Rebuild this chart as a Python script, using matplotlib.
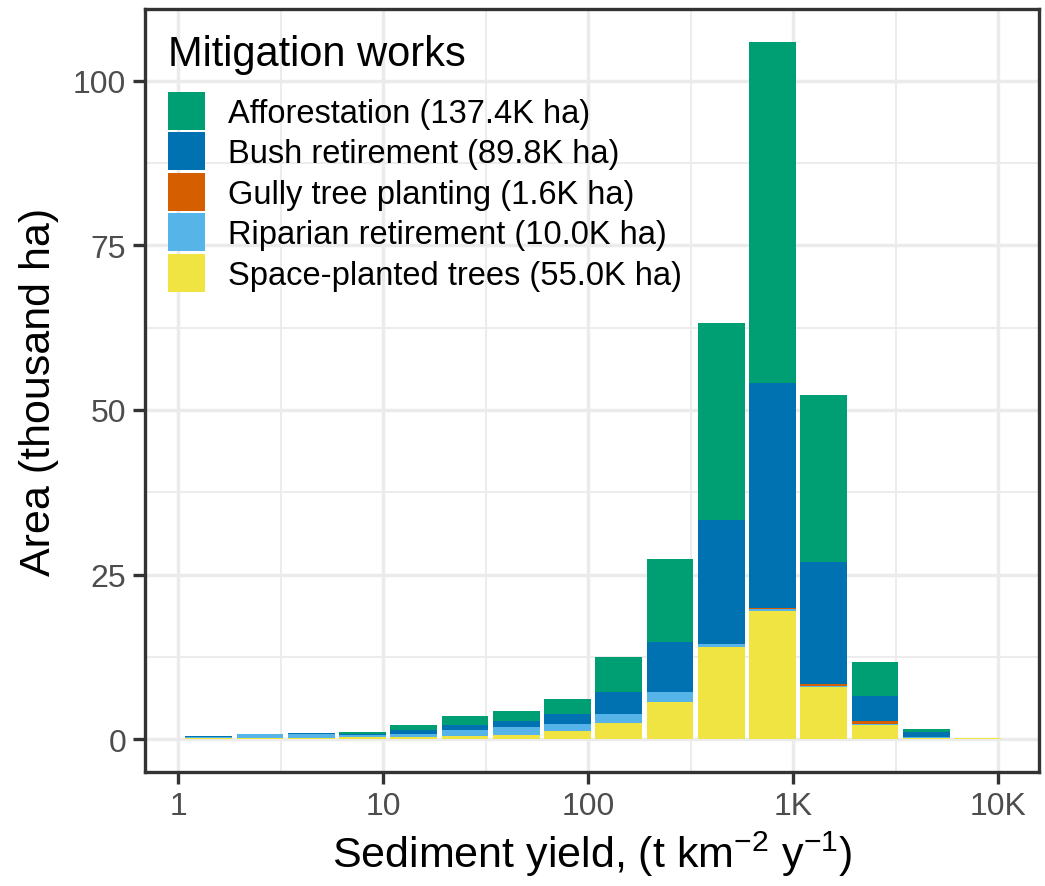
import matplotlib
matplotlib.use('Agg')
import matplotlib.pyplot as plt
import numpy as np
from matplotlib.patches import Patch
from matplotlib.ticker import FixedLocator, NullFormatter

plt.rcParams['font.family'] = ['Liberation Sans', 'DejaVu Sans']
plt.rcParams['mathtext.fontset'] = 'custom'
plt.rcParams['mathtext.rm'] = 'Liberation Sans'
plt.rcParams['mathtext.it'] = 'Liberation Sans:italic'
plt.rcParams['mathtext.default'] = 'regular'

# ---- data (thousand ha per sediment-yield bin) ----
log_bin_centers = [0.15, 0.40, 0.65, 0.90, 1.15, 1.40, 1.65, 1.90,
                   2.15, 2.40, 2.65, 2.90, 3.15, 3.40, 3.65, 3.90]
afforestation = [0.05, 0.00, 0.00, 0.30, 0.76, 1.37, 1.52, 2.38,
                 5.32, 12.61, 29.90, 51.70, 25.40, 5.17, 0.56, 0.05]
bush_retirement = [0.10, 0.02, 0.15, 0.15, 0.60, 0.76, 0.91, 1.42,
                   3.34, 7.60, 18.75, 34.20, 18.50, 3.75, 0.66, 0.02]
gully_planting = [0.00, 0.00, 0.00, 0.00, 0.00, 0.00, 0.00, 0.00,
                  0.00, 0.03, 0.05, 0.18, 0.32, 0.48, 0.03, 0.00]
riparian_retirement = [0.20, 0.65, 0.55, 0.35, 0.46, 0.91, 1.22, 1.06,
                       1.37, 1.52, 0.46, 0.30, 0.15, 0.20, 0.15, 0.02]
space_planted = [0.15, 0.15, 0.15, 0.30, 0.35, 0.50, 0.66, 1.27,
                 2.43, 5.62, 13.98, 19.45, 7.90, 2.13, 0.17, 0.10]

series_labels = ["Afforestation (137.4K ha)", "Bush retirement (89.8K ha)",
                 "Gully tree planting (1.6K ha)", "Riparian retirement (10.0K ha)",
                 "Space-planted trees (55.0K ha)"]
series_colors = ["#009E73", "#0072B2", "#D55E00", "#56B4E9", "#F0E442"]
x_tick_values = [1, 10, 100, 1000, 10000]
x_tick_labels = ["1", "10", "100", "1K", "10K"]
y_tick_values = [0, 25, 50, 75, 100]

# ---- figure ----
W, H = 1045, 887
fig = plt.figure(figsize=(W / 100, H / 100), dpi=100)
ax = fig.add_axes([145 / W, 1 - 773 / H, (1039 - 145) / W, (773 - 10) / H])

centers = np.array(log_bin_centers)
half_w = 0.1145
lefts = 10 ** (centers - half_w)
rights = 10 ** (centers + half_w)
widths = rights - lefts

stack_order = [(space_planted, 4), (riparian_retirement, 3), (gully_planting, 2),
               (bush_retirement, 1), (afforestation, 0)]
bottom = np.zeros(len(centers))
for vals, idx in stack_order:
    v = np.array(vals)
    ax.bar(lefts, v, width=widths, bottom=bottom, align='edge',
           color=series_colors[idx], linewidth=0, zorder=3)
    bottom += v

ax.set_xscale('log')
ax.set_xlim(10 ** -0.161, 10 ** 4.2)
ax.set_ylim(-5.0, 110.9)

ax.xaxis.set_major_locator(FixedLocator(x_tick_values))
ax.set_xticklabels(x_tick_labels)
ax.xaxis.set_minor_locator(FixedLocator([10 ** 0.5, 10 ** 1.5, 10 ** 2.5, 10 ** 3.5]))
ax.xaxis.set_minor_formatter(NullFormatter())
ax.yaxis.set_major_locator(FixedLocator(y_tick_values))
ax.yaxis.set_minor_locator(FixedLocator([12.5, 37.5, 62.5, 87.5]))

ax.grid(which='major', color='#EBEBEB', linewidth=2.5, zorder=0)
ax.grid(which='minor', color='#EBEBEB', linewidth=1.3, zorder=0)
ax.set_axisbelow(True)

for s in ax.spines.values():
    s.set_color('#333333')
    s.set_linewidth(2.4)
ax.tick_params(which='major', length=8.5, width=2.4, color='#333333',
               labelsize=23, labelcolor='#4D4D4D', pad=5)
ax.tick_params(which='minor', length=0)

ax.set_xlabel(r'Sediment yield, (t km$^{-2}$ y$^{-1}$)', fontsize=31, labelpad=6)
ax.set_ylabel('Area (thousand ha)', fontsize=31, labelpad=10)

fs = 23.5
handles = [Patch(facecolor=c, edgecolor='none', linewidth=0) for c in series_colors]
leg = ax.legend(handles, series_labels, loc='upper left',
                bbox_to_anchor=(0.026, 0.9675), frameon=False,
                title='Mitigation works', title_fontsize=30, fontsize=fs,
                handlelength=1.133, handleheight=1.414, labelspacing=0.077,
                handletextpad=0.7, borderpad=0, borderaxespad=0,
                alignment='left')
leg._legend_box.sep = 13

fig.savefig('out.png', dpi=100)
